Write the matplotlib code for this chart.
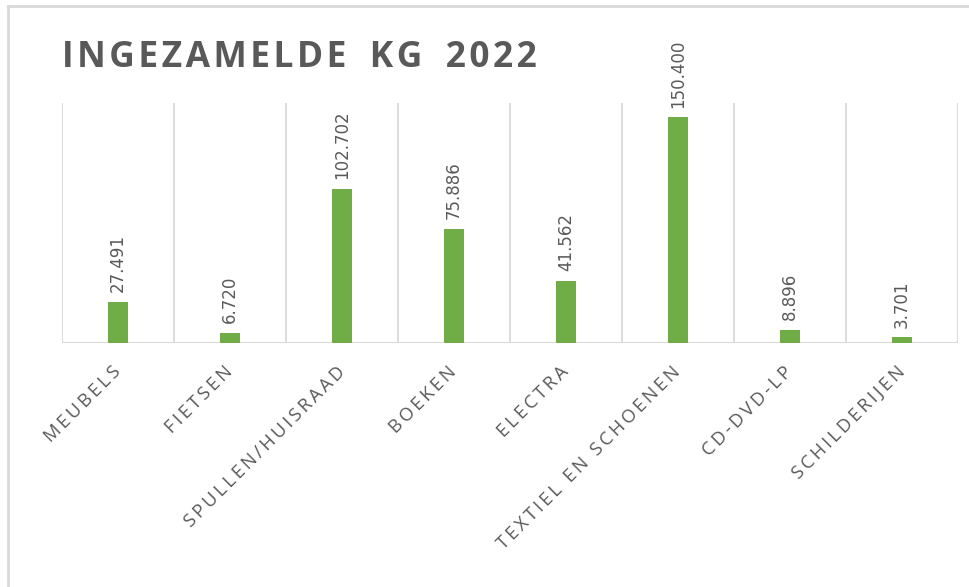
import matplotlib
matplotlib.use('Agg')
import matplotlib.pyplot as plt
from matplotlib.lines import Line2D

categories = ['MEUBELS', 'FIETSEN', 'SPULLEN/HUISRAAD', 'BOEKEN', 'ELECTRA',
              'TEXTIEL EN SCHOENEN', 'CD-DVD-LP', 'SCHILDERIJEN']
values = [27.491, 6.720, 102.702, 75.886, 41.562, 150.400, 8.896, 3.701]
title = 'INGEZAMELDE KG 2022'

green = '#70AD47'
grey = '#595959'
light = '#D9D9D9'


def spaced(s, sep='\u2009'):
    return sep.join(s)


fig = plt.figure(figsize=(9.7, 5.87), dpi=100)
ax = fig.add_axes([62 / 970, 1 - 343 / 587, 896 / 970, 240 / 587])

x = range(len(categories))
bars = ax.bar(x, values, width=0.18, color=green, zorder=3)
for bar, val in zip(bars, values):
    ax.annotate(f'{val:.3f}', (bar.get_x() + bar.get_width() / 2, bar.get_height()),
                xytext=(0, 7), textcoords='offset points', rotation=90,
                ha='center', va='bottom', fontsize=12, color=grey,
                family=['DejaVu Sans'])

ax.set_xlim(-0.5, len(categories) - 0.5)
ax.set_ylim(0, 160)
for i in range(len(categories) + 1):
    ax.axvline(i - 0.5, color=light, lw=1.3, zorder=1)
ax.axhline(0, color=light, lw=1.5, zorder=2)

for s in ax.spines.values():
    s.set_visible(False)
ax.set_yticks([])
ax.set_xticks(list(x))
ax.set_xticklabels([spaced(c) for c in categories], rotation=45, ha='right',
                   va='center', rotation_mode='anchor', fontsize=13.2, color=grey,
                   family=['Open Sans', 'DejaVu Sans'])
ax.tick_params(axis='x', length=0, pad=19)

title_txt = spaced(title, '\u200a').replace(' ', ' \u2009')
fig.text(62 / 970, 1 - 67 / 587, title_txt, fontsize=25.5, fontweight='bold',
         color=grey, va='baseline', ha='left', family=['Open Sans', 'DejaVu Sans'])

# chart border (cropped on the right and bottom)
fig.add_artist(Line2D([8 / 970, 8 / 970], [0, 1 - 6 / 587], color=light, lw=2))
fig.add_artist(Line2D([8 / 970, 1], [1 - 6 / 587, 1 - 6 / 587], color=light, lw=2))

fig.savefig('out.png', dpi=100)
